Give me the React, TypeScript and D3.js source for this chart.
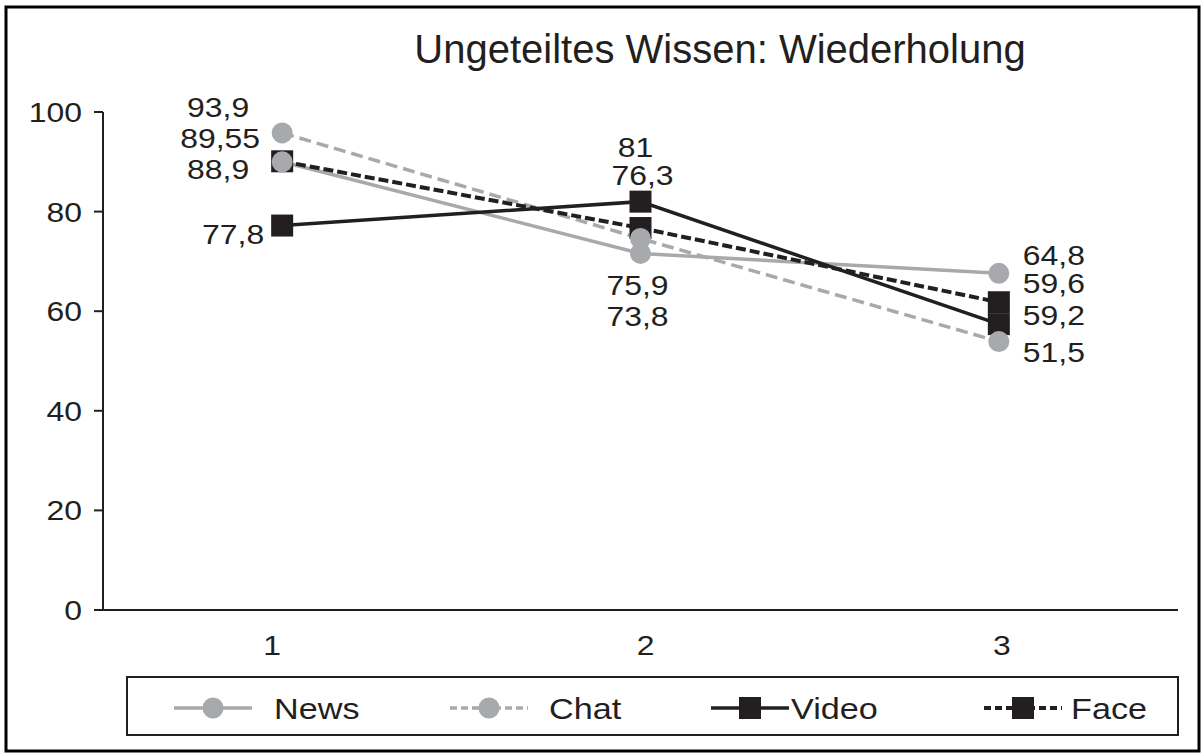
import React from "react";
import * as d3 from "d3";

const categories = ["1", "2", "3"];
const yTicks = [0, 20, 40, 60, 80, 100];

// values as plotted in the figure
const newsValues = [90.0, 71.6, 67.6];
const chatValues = [95.8, 74.6, 53.9];
const videoValues = [77.2, 82.0, 57.4];
const faceValues = [90.1, 76.7, 61.8];

// value labels as printed
const newsLabels = ["88,9", "73,8", "64,8"];
const chatLabels = ["93,9", "75,9", "51,5"];
const videoLabels = ["77,8", "81", "59,2"];
const faceLabels = ["89,55", "76,3", "59,6"];

const title = "Ungeteiltes Wissen: Wiederholung";

const GRAY = "#a7a9ac";
const DARK = "#231f20";
const FONT = "'Liberation Sans', Arial, Helvetica, sans-serif";
const SX = 1.14;

const T = ({ x, y, size = 28, anchor = "middle", sx = SX, children }: any) => (
  <text
    transform={`translate(${x},${y}) scale(${sx},1)`}
    textAnchor={anchor}
    fontSize={size}
    fontFamily={FONT}
    fill={DARK}
  >
    {children}
  </text>
);

const series = [
  { name: "News", values: newsValues, labels: newsLabels, color: GRAY, dash: null, width: 3.5, marker: "circle",
    off: [[-64, 17, "middle"], [-3, 73, "middle"], [24, -8, "start"]] },
  { name: "Chat", values: chatValues, labels: chatLabels, color: GRAY, dash: "12 6", width: 3.5, marker: "circle",
    off: [[-64, -16, "middle"], [-3, 57, "middle"], [24, 20, "start"]] },
  { name: "Video", values: videoValues, labels: videoLabels, color: DARK, dash: null, width: 3.5, marker: "square",
    off: [[-49, 18, "middle"], [-5, -45, "middle"], [24, 1, "start"]] },
  { name: "Face", values: faceValues, labels: faceLabels, color: DARK, dash: "10 4", width: 4, marker: "square",
    off: [[-62, -13, "middle"], [2, -43, "middle"], [24, -9, "start"]] },
];

const legendX = [174, 450, 711, 984];
const legendTextX = [274, 549, 791, 1071];
const catLabelDx = [-10, 5, 3];

export default function App() {
  const W = 1203;
  const H = 755;
  const left = 103;
  const right = 1178;
  const top = 112;
  const bottom = 610;

  const x = d3.scalePoint<string>().domain(categories).range([left, right]).padding(0.5);
  const y = d3.scaleLinear().domain([0, 100]).range([bottom, top]);
  const line = d3
    .line<number>()
    .x((_, i) => x(categories[i]) as number)
    .y((d) => y(d));

  const marker = (kind: string, cx: number, cy: number, color: string, key: any) =>
    kind === "circle" ? (
      <circle key={key} cx={cx} cy={cy} r={10.5} fill={color} />
    ) : (
      <rect key={key} x={cx - 11} y={cy - 11} width={22} height={22} fill={color} />
    );

  const drawOrder = [3, 2, 0, 1];

  return (
    <svg width={W} height={H} style={{ position: "absolute", left: 0, top: 0, background: "#fff" }}>
      <rect x={6} y={7} width={1193} height={744} fill="#fff" stroke="#000" strokeWidth={3} />

      <T x={720} y={63} size={40} sx={1}>{title}</T>

      {/* axes */}
      <line x1={left} x2={left} y1={top} y2={bottom} stroke={DARK} strokeWidth={2} />
      <line x1={left} x2={right} y1={bottom} y2={bottom} stroke={DARK} strokeWidth={2} />
      {yTicks.map((t) => (
        <g key={t}>
          <line x1={left - 9} x2={left} y1={y(t)} y2={y(t)} stroke={DARK} strokeWidth={2} />
          <T x={left - 21} y={y(t) + 10} anchor="end">{t}</T>
        </g>
      ))}
      {categories.map((c, i) => (
        <T key={c} x={(x(c) as number) + catLabelDx[i]} y={655}>{c}</T>
      ))}

      {/* lines */}
      {series.map((s) => (
        <path
          key={s.name}
          d={line(s.values) as string}
          fill="none"
          stroke={s.color}
          strokeWidth={s.width}
          strokeDasharray={s.dash ?? undefined}
        />
      ))}

      {/* markers */}
      {drawOrder.map((k) => {
        const s = series[k];
        return s.values.map((v, i) => marker(s.marker, x(categories[i]) as number, y(v), s.color, s.name + i));
      })}

      {/* value labels */}
      {series.map((s) =>
        s.labels.map((lab, i) => {
          const [dx, dy, anchor] = s.off[i] as [number, number, string];
          return (
            <T key={s.name + "l" + i} x={(x(categories[i]) as number) + dx} y={y(s.values[i]) + dy} anchor={anchor}>
              {lab}
            </T>
          );
        })
      )}

      {/* legend */}
      <rect x={127} y={677} width={1051} height={58} fill="none" stroke={DARK} strokeWidth={2} />
      {series.map((s, i) => {
        const x0 = legendX[i];
        const x1 = x0 + 78;
        const cy = 708;
        return (
          <g key={"lg" + s.name}>
            <line x1={x0} x2={x1} y1={cy} y2={cy} stroke={s.color} strokeWidth={s.width} strokeDasharray={s.dash ? "7 4" : undefined} />
            {marker(s.marker, (x0 + x1) / 2, cy, s.color, "m")}
            <T x={legendTextX[i]} y={719} size={30} anchor="start">{s.name}</T>
          </g>
        );
      })}
    </svg>
  );
}
